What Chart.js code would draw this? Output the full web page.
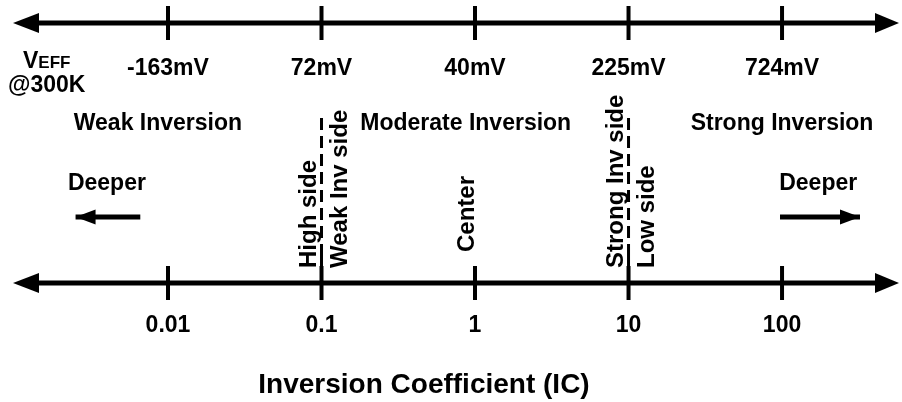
<!DOCTYPE html>
<html>
<head>
<meta charset="utf-8">
<script src="https://cdn.jsdelivr.net/npm/chart.js@4.4.0/dist/chart.umd.min.js"></script>
<style>
  html, body { margin: 0; padding: 0; background: #fff; }
  canvas { display: block; }
</style>
</head>
<body>
<canvas id="chart" width="902" height="402"></canvas>
<script>
// values
const icTicks = [0.01, 0.1, 1, 10, 100];
const icTickLabels = ['0.01', '0.1', '1', '10', '100'];
const veffTickLabels = ['-163mV', '72mV', '40mV', '225mV', '724mV'];
const regionLabels = ['Weak Inversion', 'Moderate Inversion', 'Strong Inversion'];
const regionCenters = [0.0086, 0.87, 100];
const boundaryIC = [0.1, 10];
const boundaryLeftLabels = ['High side', 'Strong Inv side'];
const boundaryRightLabels = ['Weak Inv side', 'Low side'];
const centerIC = 1;
const centerLabel = 'Center';
const deeperArrows = [[0.0066, 0.0025], [97, 322]]; // tail, tip
const deeperLabelIC = [0.0040, 172];

// layout (pixel rows on the hidden y scale)
const Y_TOP = 23, Y_BOT = 283, Y_SMALL_ARROW = 217;
const DASH_FROM = 118, DASH_TO = 248, LINE_TO = 300;
const AXIS_MIN = 0.0012, AXIS_MAX = 450;
const FONT = '"Liberation Sans", Arial, sans-serif';

const black = '#000';

const lineSet = (pts, extra = {}) => ({
  type: 'line',
  data: pts,
  borderColor: black,
  borderWidth: 5,
  pointRadius: 0,
  fill: false,
  clip: false,
  ...extra
});

const datasets = [
  lineSet([{ x: AXIS_MIN, y: Y_TOP }, { x: AXIS_MAX, y: Y_TOP }]),
  lineSet([{ x: AXIS_MIN, y: Y_BOT }, { x: AXIS_MAX, y: Y_BOT }]),
  {
    type: 'scatter',
    data: icTicks.map(v => ({ x: v, y: Y_TOP })).concat(icTicks.map(v => ({ x: v, y: Y_BOT }))),
    pointStyle: 'line',
    rotation: 90,
    pointRadius: 17,
    borderWidth: 4,
    borderColor: black,
    clip: false
  },
  ...boundaryIC.map(v => lineSet([{ x: v, y: DASH_FROM }, { x: v, y: DASH_TO }], { borderWidth: 3, borderDash: [12, 6] })),
  ...boundaryIC.map(v => lineSet([{ x: v, y: DASH_TO }, { x: v, y: LINE_TO }], { borderWidth: 3 })),
  ...deeperArrows.map(a => lineSet([{ x: a[0], y: Y_SMALL_ARROW }, { x: a[1], y: Y_SMALL_ARROW }], { borderWidth: 5 }))
];

function arrowHead(ctx, tipX, y, dir, len, half) {
  ctx.beginPath();
  ctx.moveTo(tipX, y);
  ctx.lineTo(tipX - dir * len, y - half);
  ctx.lineTo(tipX - dir * len, y + half);
  ctx.closePath();
  ctx.fill();
}

function rotatedText(ctx, text, baseX, midY) {
  ctx.save();
  ctx.translate(baseX, midY);
  ctx.rotate(-Math.PI / 2);
  ctx.textAlign = 'center';
  ctx.textBaseline = 'alphabetic';
  ctx.fillText(text, 0, 0);
  ctx.restore();
}

const diagramText = {
  id: 'diagramText',
  afterDatasetsDraw(chart) {
    const { ctx, chartArea, scales: { x, y } } = chart;
    ctx.save();
    ctx.fillStyle = black;

    // big axis arrowheads
    [Y_TOP, Y_BOT].forEach(row => {
      const py = y.getPixelForValue(row);
      arrowHead(ctx, chartArea.left, py, -1, 26, 10);
      arrowHead(ctx, chartArea.right, py, 1, 24, 10);
    });

    // "Deeper" arrowheads
    deeperArrows.forEach(a => {
      const tip = x.getPixelForValue(a[1]);
      const dir = a[1] > a[0] ? 1 : -1;
      arrowHead(ctx, tip, y.getPixelForValue(Y_SMALL_ARROW), dir, 20, 7.5);
    });

    ctx.textAlign = 'center';
    ctx.textBaseline = 'alphabetic';

    // VEFF row
    ctx.font = 'bold 23px ' + FONT;
    veffTickLabels.forEach((t, i) => ctx.fillText(t, x.getPixelForValue(icTicks[i]), 75));

    // IC row
    icTickLabels.forEach((t, i) => ctx.fillText(t, x.getPixelForValue(icTicks[i]), 332));

    // regions
    regionLabels.forEach((t, i) => ctx.fillText(t, x.getPixelForValue(regionCenters[i]), 130));

    // Deeper
    deeperLabelIC.forEach(v => ctx.fillText('Deeper', x.getPixelForValue(v), 190));

    // VEFF @300K
    ctx.textAlign = 'left';
    ctx.fillText('V', 23, 68);
    const vw = ctx.measureText('V').width;
    ctx.font = 'bold 17px ' + FONT;
    ctx.fillText('EFF', 23 + vw, 68);
    ctx.font = 'bold 23px ' + FONT;
    ctx.fillText('@300K', 8, 92);

    // rotated labels beside the boundaries
    ctx.font = 'bold 24px ' + FONT;
    boundaryIC.forEach((v, i) => {
      const px = x.getPixelForValue(v);
      const lw = ctx.measureText(boundaryLeftLabels[i]).width;
      const rw = ctx.measureText(boundaryRightLabels[i]).width;
      rotatedText(ctx, boundaryLeftLabels[i], px - 6, 268 - lw / 2);
      rotatedText(ctx, boundaryRightLabels[i], px + 25, 268 - rw / 2);
    });
    const cw = ctx.measureText(centerLabel).width;
    rotatedText(ctx, centerLabel, x.getPixelForValue(centerIC) - 1, 252 - cw / 2);

    // axis title
    ctx.textAlign = 'center';
    ctx.font = 'bold 28px ' + FONT;
    ctx.fillText('Inversion Coefficient (IC)', 424, 393);

    ctx.restore();
  }
};

new Chart(document.getElementById('chart'), {
  type: 'scatter',
  data: { datasets },
  options: {
    responsive: false,
    devicePixelRatio: 1,
    animation: false,
    layout: { autoPadding: false, padding: { left: 13, right: 3, top: 0, bottom: 0 } },
    plugins: { legend: { display: false }, tooltip: { enabled: false } },
    scales: {
      x: { type: 'logarithmic', min: 0.000978, max: 578, display: false },
      y: { type: 'linear', min: 0, max: 402, reverse: true, display: false }
    }
  },
  plugins: [diagramText]
});
</script>
</body>
</html>
